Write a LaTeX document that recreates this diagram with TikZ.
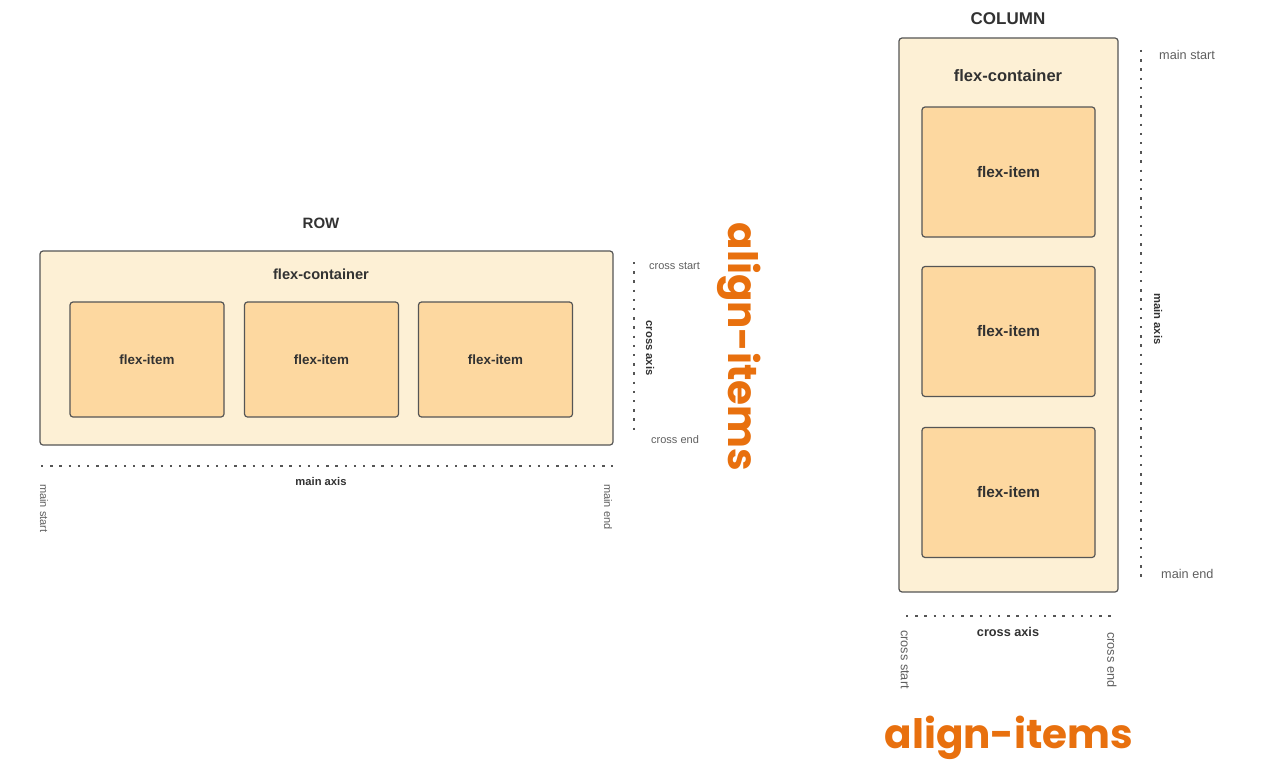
\documentclass[tikz,border=0pt]{standalone}
\usepackage{fontspec}
\setmainfont{Liberation Sans}
\newfontfamily\poppins{Poppins}
\usepackage{tikz}
\usetikzlibrary{positioning}
\definecolor{fxCream}{RGB}{253,240,213}
\definecolor{fxPeach}{RGB}{253,216,160}
\definecolor{fxLine}{RGB}{85,85,85}
\definecolor{fxText}{RGB}{50,50,50}
\definecolor{fxSoft}{RGB}{95,95,95}
\definecolor{fxOrange}{RGB}{232,112,14}

\tikzset{
	container/.style={draw=fxLine, fill=fxCream, line width=1.2pt, rounded corners=3pt, inner sep=0pt},
	item/.style={draw=fxLine, fill=fxPeach, line width=1.2pt, rounded corners=3pt, inner sep=0pt, text=fxText},
	axisline/.style={fxLine, line width=2.4pt, dash pattern=on 2.4pt off 6.8pt},
	smalllbl/.style={inner sep=0pt, text=fxSoft},
	boldlbl/.style={inner sep=0pt, text=fxText, font=\bfseries\fontsize{11.2}{13}\selectfont},
	bigword/.style={inner sep=0pt, text=fxOrange, font=\poppins\bfseries\fontsize{40.5}{46}\selectfont}
}

\begin{document}
\begin{tikzpicture}[x=1pt, y=-1pt]
	\useasboundingbox (0,0) rectangle (1276,776);
	
	% Row layout
	\node[boldlbl, font=\bfseries\fontsize{15}{18}\selectfont] (rowhead) at (321,223) {ROW};
	\node[container, minimum width=573pt, minimum height=194pt] (rowbox) at (326.5,348) {};
	\node[boldlbl, font=\bfseries\fontsize{14.6}{17}\selectfont] (rowname) at (321,274) {flex-container};
	\node[item, minimum width=154pt, minimum height=115pt, font=\bfseries\fontsize{13.4}{16}\selectfont] (ritem1) at (147,359.5) {flex-item};
	\node[item, minimum width=154pt, minimum height=115pt, font=\bfseries\fontsize{13.4}{16}\selectfont] (ritem2) at (321.5,359.5) {flex-item};
	\node[item, minimum width=154pt, minimum height=115pt, font=\bfseries\fontsize{13.4}{16}\selectfont] (ritem3) at (495.5,359.5) {flex-item};
	
	% Row axes
	\coordinate (rcrossS) at (634,262);
	\coordinate (rcrossE) at (634,436);
	\draw[axisline] (rcrossS) -- (rcrossE);
	\node[smalllbl, anchor=west, font=\fontsize{11}{13}\selectfont] (rcrossstart) at (649,266) {cross start};
	\node[smalllbl, anchor=west, font=\fontsize{11}{13}\selectfont] (rcrossend) at (651,440) {cross end};
	\node[boldlbl, rotate=-90] (rcrossaxis) at (650,348) {cross axis};
	
	\coordinate (rmainS) at (41,466);
	\coordinate (rmainE) at (613,466);
	\draw[axisline] (rmainS) -- (rmainE);
	\node[boldlbl] (rmainaxis) at (321,481) {main axis};
	\node[smalllbl, rotate=-90, anchor=west, font=\fontsize{11}{13}\selectfont] (rmainstart) at (44,484) {main start};
	\node[smalllbl, rotate=-90, anchor=west, font=\fontsize{11}{13}\selectfont] (rmainend) at (608,484) {main end};
	
	\node[bigword, rotate=-90, anchor=base] (rowword) at (728,347) {align-items};
	
	% Column layout
	\node[boldlbl, font=\bfseries\fontsize{17}{20}\selectfont] (colhead) at (1008,19) {COLUMN};
	\node[container, minimum width=219pt, minimum height=554pt] (colbox) at (1008.5,315) {};
	\node[boldlbl, font=\bfseries\fontsize{16.5}{19}\selectfont] (colname) at (1008,76) {flex-container};
	\node[item, minimum width=173pt, minimum height=130pt, font=\bfseries\fontsize{15.3}{18}\selectfont] (citem1) at (1008.5,172) {flex-item};
	\node[item, minimum width=173pt, minimum height=130pt, font=\bfseries\fontsize{15.3}{18}\selectfont] (citem2) at (1008.5,331.5) {flex-item};
	\node[item, minimum width=173pt, minimum height=130pt, font=\bfseries\fontsize{15.3}{18}\selectfont] (citem3) at (1008.5,492.5) {flex-item};
	
	% Column axes
	\coordinate (cmainS) at (1141,50);
	\coordinate (cmainE) at (1141,581);
	\draw[axisline] (cmainS) -- (cmainE);
	\node[smalllbl, anchor=west, font=\fontsize{12.7}{15}\selectfont] (cmainstart) at (1159,55) {main start};
	\node[smalllbl, anchor=west, font=\fontsize{12.7}{15}\selectfont] (cmainend) at (1161,574) {main end};
	\node[boldlbl, rotate=-90] (cmainaxis) at (1158,319) {main axis};
	
	\coordinate (ccrossS) at (906,616);
	\coordinate (ccrossE) at (1112,616);
	\draw[axisline] (ccrossS) -- (ccrossE);
	\node[boldlbl, font=\bfseries\fontsize{12.7}{15}\selectfont] (ccrossaxis) at (1008,632) {cross axis};
	\node[smalllbl, rotate=-90, anchor=west, font=\fontsize{12.7}{15}\selectfont] (ccrossstart) at (905,630) {cross start};
	\node[smalllbl, rotate=-90, anchor=west, font=\fontsize{12.7}{15}\selectfont] (ccrossend) at (1112,632) {cross end};
	
	\node[bigword, anchor=base] (colword) at (1009,748) {align-items};
\end{tikzpicture}
\end{document}
